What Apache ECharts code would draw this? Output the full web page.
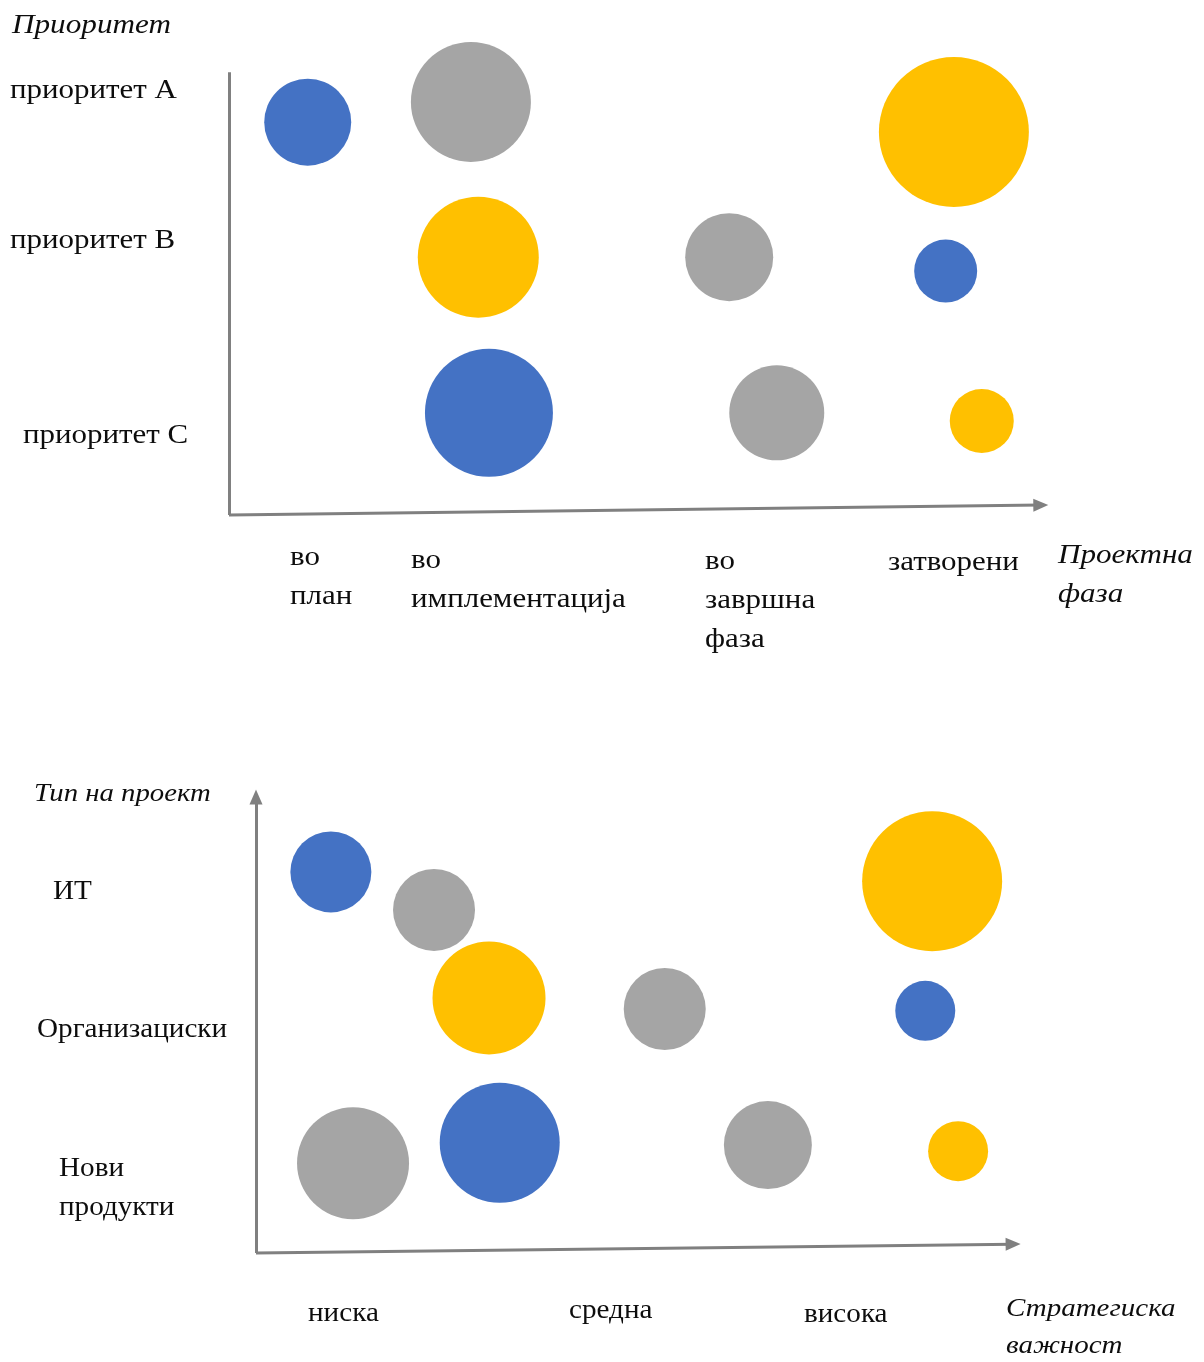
<!DOCTYPE html>
<html>
<head>
<meta charset="utf-8">
<script src="https://cdn.jsdelivr.net/npm/echarts@6/dist/echarts.min.js"></script>
<style>html,body{margin:0;padding:0;background:#fff;}#c{width:1204px;height:1362px;}</style>
</head>
<body>
<div id="c"></div>
<script>
// ---------- Chart 1: Приоритет × Проектна фаза ----------
var top_yTitle = 'Приоритет';
var top_xTitle = ['Проектна', 'фаза'];
var top_yLabels = ['приоритет А', 'приоритет B', 'приоритет C'];
var top_xLabels = [['во', 'план'], ['во', 'имплементација'], ['во', 'завршна', 'фаза'], ['затворени']];
// bubbles: [x, y, size]
var top_blue   = [[0.96, 8.73, 87], [3.17, 2.27, 128], [8.74, 5.42, 63]];
var top_gray   = [[2.95, 9.18, 120], [6.10, 5.73, 88], [6.68, 2.27, 95]];
var top_yellow = [[8.84, 8.51, 150], [3.04, 5.73, 121], [9.18, 2.09, 64]];

// ---------- Chart 2: Тип на проект × Стратегиска важност ----------
var bot_yTitle = 'Тип на проект';
var bot_xTitle = ['Стратегиска', 'важност'];
var bot_yLabels = [['ИТ'], ['Организациски'], ['Нови', 'продукти']];
var bot_xLabels = ['ниска', 'средна', 'висока'];
var bot_blue   = [[0.98, 8.23, 81], [3.19, 2.38, 120], [8.76, 5.23, 60]];
var bot_gray   = [[2.33, 7.41, 82], [5.35, 5.27, 82], [1.27, 1.94, 112], [6.70, 2.33, 88]];
var bot_yellow = [[8.85, 8.03, 140], [3.05, 5.51, 113], [9.19, 2.20, 60]];

var BLUE = '#4472C4', GRAY = '#A5A5A5', YELLOW = '#FFC000', AXIS = '#808080';
var SERIF = '"Liberation Serif", "Times New Roman", serif';
var FS = 27, LH = 39;

function txt(x, y, lines, italic, size, sx, lh) {
  return {
    type: 'text', x: x, y: y, scaleX: sx || 1.146,
    style: {
      text: lines.join('\n'),
      font: (italic ? 'italic ' : '') + (size || FS) + 'px ' + SERIF,
      fill: '#0d0d0d', textAlign: 'left', textVerticalAlign: 'top', lineHeight: lh || LH
    }
  };
}

var chart = echarts.init(document.getElementById('c'), null, {renderer: 'canvas'});

function axisDef(idx) {
  return {
    type: 'value', gridIndex: idx, min: 0, max: 10,
    axisLine: {show: false}, axisTick: {show: false}, axisLabel: {show: false}, splitLine: {show: false}
  };
}
function bubble(name, data, color, idx) {
  return {
    type: 'scatter', name: name, xAxisIndex: idx, yAxisIndex: idx, data: data,
    symbolSize: function (v) { return v[2]; },
    itemStyle: {color: color, opacity: 1}, z: 3, silent: true
  };
}
function axesLines(idx, yArrow, yEnd, xEnd, xEndY) {
  return {
    type: 'scatter', xAxisIndex: idx, yAxisIndex: idx, data: [], silent: true,
    markLine: {
      silent: true, animation: false,
      label: {show: false},
      lineStyle: {color: AXIS, width: 3, type: 'solid'},
      symbolSize: [13, 15],
      data: [
        [{coord: [0, 0], symbol: 'none'}, {coord: [0, yEnd], symbol: yArrow ? 'triangle' : 'none'}],
        [{coord: [0, 0], symbol: 'none'}, {coord: [xEnd, xEndY], symbol: 'triangle'}]
      ]
    }
  };
}

var graphics = [];
// chart 1 texts
graphics.push(txt(12, 6, [top_yTitle], true, 27, 1.155));
graphics.push(txt(10, 91 - LH / 2, [top_yLabels[0]]));
graphics.push(txt(10, 241 - LH / 2, [top_yLabels[1]]));
graphics.push(txt(23, 436 - LH / 2, [top_yLabels[2]]));
var tx = [290, 411, 705, 888];
var ty = [558, 561, 562, 563];
top_xLabels.forEach(function (l, i) { graphics.push(txt(tx[i], ty[i] - LH / 2, l)); });
graphics.push(txt(1058, 556 - LH / 2, top_xTitle, true, 28, 1.11));
// chart 2 texts
graphics.push(txt(34, 794 - LH / 2, [bot_yTitle], true, 25, 1.15));
var by = [892, 1030, 1169];
var bx = [53, 37, 59];
bot_yLabels.forEach(function (l, i) { graphics.push(txt(bx[i], by[i] - LH / 2, l, false, 27, 1.08)); });
var bxx = [308, 569, 804];
var byy = [1314, 1311, 1315];
bot_xLabels.forEach(function (l, i) { graphics.push(txt(bxx[i], byy[i] - LH / 2, [l], false, 27, 1.08)); });
graphics.push(txt(1006, 1309 - 37 / 2, bot_xTitle, true, 26, 1.115, 37));

chart.setOption({
  animation: false,
  backgroundColor: '#fff',
  grid: [
    {left: 229, top: 65, width: 820, height: 450},
    {left: 256, top: 790, width: 764, height: 463}
  ],
  xAxis: [axisDef(0), axisDef(1)],
  yAxis: [axisDef(0), axisDef(1)],
  graphic: graphics,
  series: [
    axesLines(0, false, 9.84, 9.90, 0.22),
    bubble('blue', top_blue, BLUE, 0),
    bubble('gray', top_gray, GRAY, 0),
    bubble('yellow', top_yellow, YELLOW, 0),
    axesLines(1, true, 9.85, 9.91, 0.19),
    bubble('blue', bot_blue, BLUE, 1),
    bubble('gray', bot_gray, GRAY, 1),
    bubble('yellow', bot_yellow, YELLOW, 1)
  ]
});
</script>
</body>
</html>
